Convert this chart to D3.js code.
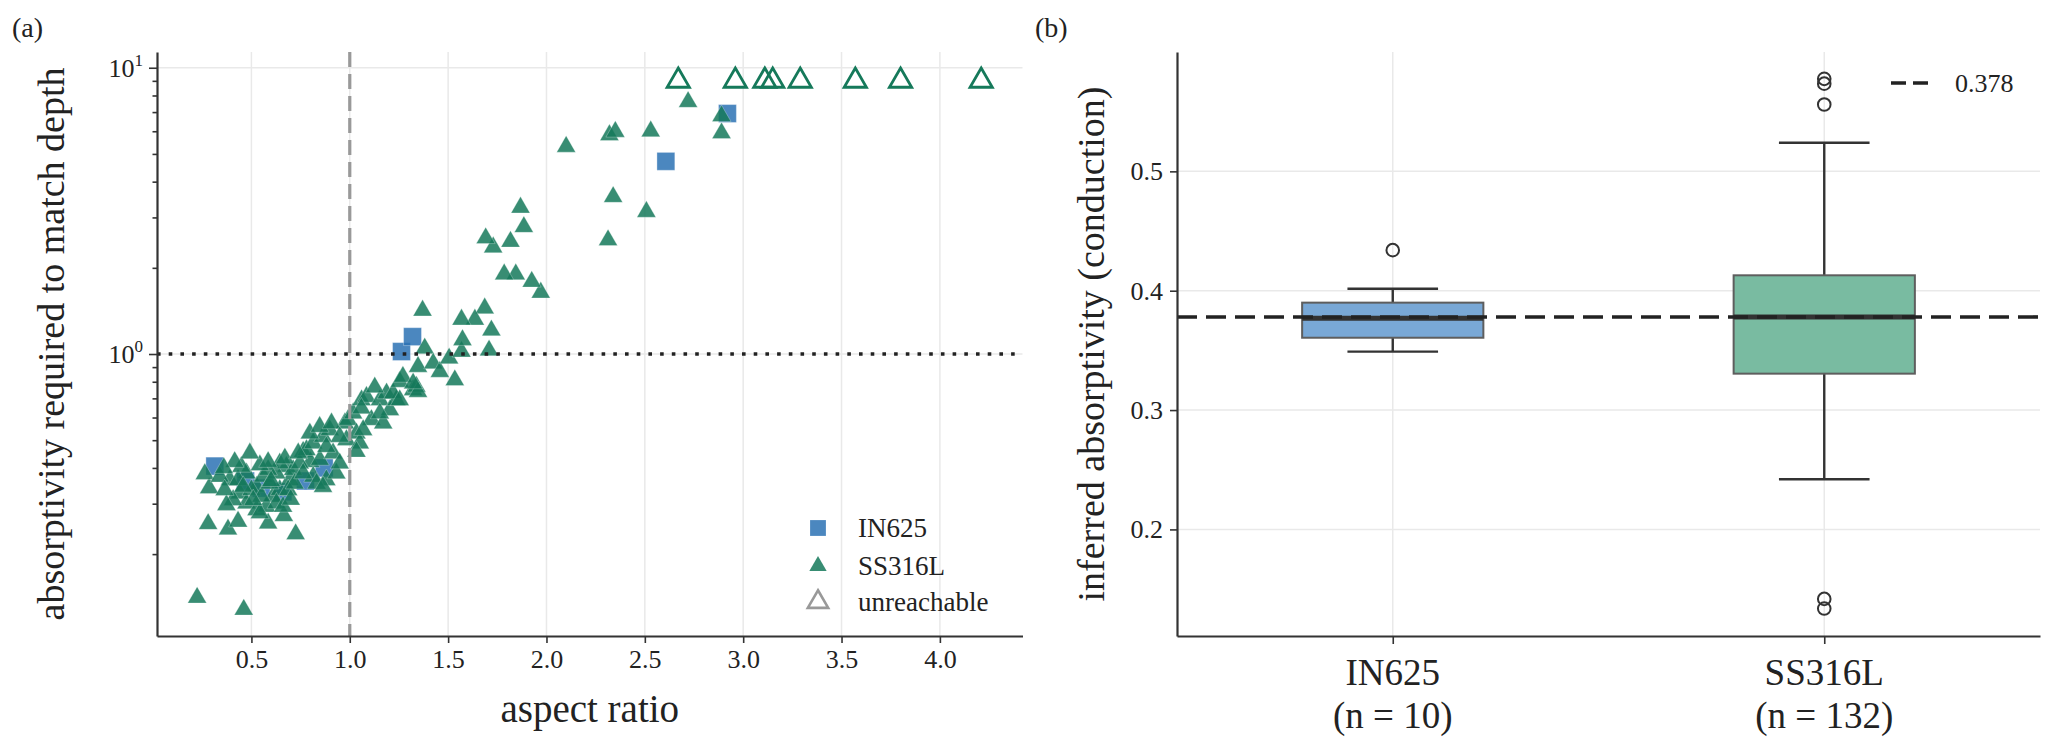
<!DOCTYPE html>
<html><head><meta charset="utf-8">
<script src="https://cdn.jsdelivr.net/npm/d3@7"></script>
<style>
body{margin:0;background:#fff}
text{font-family:"Liberation Serif","Times New Roman",serif;fill:#222}
</style>
</head><body>
<svg id="c" width="2056" height="750"></svg>
<script>
// ---------- DATA ----------
const ss316l = [
 [0.224,0.141],[0.461,0.128],[0.280,0.255],[0.381,0.244],[0.432,0.260],[0.585,0.256],[0.665,0.272],[0.725,0.235],[0.285,0.340],[0.263,0.381],
 [0.390,0.363],[0.441,0.326],[0.475,0.301],[0.526,0.344],[0.560,0.373],[0.610,0.318],[0.644,0.335],[0.678,0.404],[0.695,0.363],[0.526,0.285],
 [0.576,0.293],[0.627,0.301],[0.475,0.383],[0.407,0.309],[0.373,0.297],[0.661,0.293],[0.712,0.394],[0.543,0.278],[0.339,0.373],[0.364,0.335],
 [0.432,0.363],[0.500,0.335],[0.551,0.318],[0.593,0.353],[0.627,0.383],[0.644,0.415],[0.687,0.335],[0.720,0.353],[0.458,0.344],[0.509,0.309],
 [0.449,0.404],[0.585,0.394],[0.543,0.409],[0.492,0.450],[0.415,0.420],[0.585,0.420],[0.670,0.432],[0.763,0.456],[0.600,0.360],[0.700,0.310],
 [0.800,0.420],[0.360,0.400],
 [0.746,0.415],[0.780,0.462],[0.814,0.488],[0.848,0.427],[0.881,0.363],[0.915,0.450],[0.932,0.383],[0.949,0.415],[0.864,0.514],[0.814,0.373],
 [0.797,0.528],[0.898,0.543],[0.881,0.474],[0.763,0.383],[0.831,0.353],[0.864,0.344],[0.975,0.573],[0.983,0.501],[0.738,0.450],[0.847,0.557],
 [0.907,0.573],[0.949,0.514],[0.991,0.589],
 [1.017,0.621],[1.034,0.528],[1.060,0.690],[1.085,0.709],[1.110,0.589],[1.153,0.690],[1.170,0.573],[1.187,0.729],[1.204,0.637],[1.237,0.690],
 [1.051,0.488],[1.034,0.456],[1.322,0.749],[1.127,0.765],[1.220,0.729],[1.339,0.769],[1.254,0.800],[1.153,0.621],[1.059,0.646],[1.068,0.543],
 [1.270,0.833],[1.254,0.690],[1.347,0.738],[1.322,0.790],[1.347,0.903],[1.381,1.047],[1.424,0.928],[1.458,0.867],[1.534,0.811],[1.505,0.966],
 [1.568,1.020],[1.573,1.120],[1.708,1.030],[1.720,1.210],[1.686,1.445],[1.636,1.320],[1.568,1.320],[1.370,1.420],
 [1.971,1.640],[1.925,1.790],[1.844,1.900],[1.785,1.900],[1.817,2.470],[1.729,2.360],[1.691,2.540],[1.885,2.780],[1.868,3.250],
 [2.100,5.300],[2.313,2.500],[2.339,3.540],[2.508,3.140],[2.320,5.820],[2.350,5.980],[2.530,6.000],[2.720,7.600],[2.890,6.780],[2.890,5.910]
];
const in625 = [[0.314,0.406],[0.470,0.360],[0.550,0.340],[0.660,0.330],[0.775,0.360],[0.870,0.400],[1.263,1.020],[1.319,1.150],[2.607,4.710],[2.920,6.920]];
const unreachableX = [2.67,2.96,3.11,3.15,3.29,3.57,3.80,4.21];
const unreachableLevel = 9;
const xTicksA = [0.5,1.0,1.5,2.0,2.5,3.0,3.5,4.0];
const yMajorA = [1,10];
const yMinorA = [0.2,0.3,0.4,0.5,0.6,0.7,0.8,0.9,2,3,4,5,6,7,8,9];
const legendA = ["IN625","SS316L","unreachable"];

const boxCats = ["IN625","SS316L"];
const boxN = [10,132];
const boxQ1 = [0.3606,0.3305];
const boxMed = [0.377,0.378];
const boxQ3 = [0.390,0.4129];
const boxLo = [0.349,0.242];
const boxHi = [0.4016,0.524];
const boxOut = [[0.434],[0.5775,0.5735,0.556,0.1418,0.1337]];
const refValue = 0.378;
const yTicksB = [0.2,0.3,0.4,0.5];

// ---------- STYLE ----------
const green = "#15795a", blue = "#2c72b4";
const boxFill = ["#79a8d6","#79bba1"];
const svg = d3.select("#c");
const yTop = 52, yBot = 636;

// ---------- PANEL A ----------
const xA = d3.scaleLinear([0.02,4.42],[157,1022.5]);
const yA = d3.scaleLog([0.1035,11.35],[yBot,yTop]);
const gA = svg.append("g");

gA.append("g").selectAll("line").data(xTicksA).join("line")
  .attr("x1",d=>xA(d)).attr("x2",d=>xA(d)).attr("y1",yTop).attr("y2",yBot)
  .attr("stroke","#e9e9e9").attr("stroke-width",1.5);
gA.append("g").selectAll("line").data(yMajorA).join("line")
  .attr("x1",xA.range()[0]).attr("x2",xA.range()[1]).attr("y1",d=>yA(d)).attr("y2",d=>yA(d))
  .attr("stroke","#e9e9e9").attr("stroke-width",1.5);

// points
const sq = d3.symbol(d3.symbolSquare,320);
const tri = d3.symbol(d3.symbolTriangle,155);
const triH = d3.symbol(d3.symbolTriangle,215);
gA.append("g").selectAll("path").data(in625).join("path")
  .attr("d",sq).attr("transform",d=>`translate(${xA(d[0])},${yA(d[1])})`)
  .attr("fill",blue).attr("fill-opacity",0.85).attr("stroke","#fff").attr("stroke-opacity",0.4).attr("stroke-width",0.8);
gA.append("g").selectAll("path").data(ss316l).join("path")
  .attr("d",tri).attr("transform",d=>`translate(${xA(d[0])},${yA(d[1])})`)
  .attr("fill",green).attr("fill-opacity",0.85).attr("stroke","#fff").attr("stroke-opacity",0.35).attr("stroke-width",0.8);
gA.append("g").selectAll("path").data(unreachableX).join("path")
  .attr("d",triH).attr("transform",d=>`translate(${xA(d)},${yA(unreachableLevel)})`)
  .attr("fill","none").attr("stroke",green).attr("stroke-width",2.8);

// reference lines
gA.append("line").attr("x1",xA(1)).attr("x2",xA(1)).attr("y1",yTop).attr("y2",yBot)
  .attr("stroke","#999").attr("stroke-width",3.2).attr("stroke-dasharray","15,7");
gA.append("line").attr("x1",xA.range()[0]).attr("x2",xA.range()[1]).attr("y1",yA(1)).attr("y2",yA(1))
  .attr("stroke","#222").attr("stroke-width",3.6).attr("stroke-dasharray","3.6,8.1");

// axes
const axXA = gA.append("g").attr("transform",`translate(0,${yBot})`)
  .call(d3.axisBottom(xA).tickValues(xTicksA).tickFormat(d3.format(".1f")).tickSize(7).tickSizeOuter(0).tickPadding(7));
const axYA = gA.append("g").attr("transform",`translate(${xA.range()[0]},0)`)
  .call(d3.axisLeft(yA).tickValues(yMajorA).tickFormat("").tickSize(8).tickSizeOuter(0));
const axYAm = gA.append("g").attr("transform",`translate(${xA.range()[0]},0)`)
  .call(d3.axisLeft(yA).tickValues(yMinorA).tickFormat("").tickSize(4.5).tickSizeOuter(0));
axYAm.select(".domain").remove();
[axXA,axYA,axYAm].forEach(a=>{
  a.select(".domain").attr("stroke","#333").attr("stroke-width",2.2);
  a.selectAll(".tick line").attr("stroke","#333").attr("stroke-width",1.6);
  a.selectAll(".tick text").attr("font-size",26).attr("fill","#222")
   .attr("font-family",'"Liberation Serif","Times New Roman",serif');
});
// log tick labels 10^n
const lt = gA.append("g").selectAll("text").data(yMajorA).join("text")
  .attr("x",xA.range()[0]-14).attr("y",d=>yA(d)+9).attr("text-anchor","end").attr("font-size",26);
lt.append("tspan").text("10");
lt.append("tspan").attr("font-size",17).attr("dy",-11).text(d=>Math.round(Math.log10(d)));

gA.append("text").attr("x",(xA.range()[0]+xA.range()[1])/2).attr("y",722).attr("text-anchor","middle")
  .attr("font-size",39).text("aspect ratio");
gA.append("text").attr("transform",`translate(64,${(yTop+yBot)/2}) rotate(-90)`).attr("text-anchor","middle")
  .attr("font-size",38).text("absorptivity required to match depth");
gA.append("text").attr("x",12).attr("y",37).attr("font-size",28).text("(a)");

// legend A
const legY = [528,566,602];
const lg = gA.append("g");
lg.append("path").attr("d",d3.symbol(d3.symbolSquare,250)).attr("transform",`translate(818,${legY[0]})`)
  .attr("fill",blue).attr("fill-opacity",0.85);
lg.append("path").attr("d",d3.symbol(d3.symbolTriangle,130)).attr("transform",`translate(818,${legY[1]})`)
  .attr("fill",green).attr("fill-opacity",0.85);
lg.append("path").attr("d",d3.symbol(d3.symbolTriangle,180)).attr("transform",`translate(818,${legY[2]})`)
  .attr("fill","none").attr("stroke","#999").attr("stroke-width",2.6);
lg.selectAll("text").data(legendA).join("text").attr("x",858).attr("y",(d,i)=>legY[i]+9)
  .attr("font-size",27).text(d=>d);

// ---------- PANEL B ----------
const xB = d3.scaleLinear([-0.5,1.5],[1177,2040]);
const yB = d3.scaleLinear([0.1107,0.600],[yBot,yTop]);
const gB = svg.append("g");
gB.append("g").selectAll("line").data(yTicksB).join("line")
  .attr("x1",xB.range()[0]).attr("x2",xB.range()[1]).attr("y1",d=>yB(d)).attr("y2",d=>yB(d))
  .attr("stroke","#e9e9e9").attr("stroke-width",1.5);
gB.append("g").selectAll("line").data(boxCats).join("line")
  .attr("x1",(d,i)=>xB(i)).attr("x2",(d,i)=>xB(i)).attr("y1",yTop).attr("y2",yBot)
  .attr("stroke","#e9e9e9").attr("stroke-width",1.5);

const bw = 0.42, cw = 0.21;
boxCats.forEach((c,i)=>{
  const g = gB.append("g");
  g.append("line").attr("x1",xB(i)).attr("x2",xB(i)).attr("y1",yB(boxQ3[i])).attr("y2",yB(boxHi[i])).attr("stroke","#333").attr("stroke-width",2.4);
  g.append("line").attr("x1",xB(i)).attr("x2",xB(i)).attr("y1",yB(boxQ1[i])).attr("y2",yB(boxLo[i])).attr("stroke","#333").attr("stroke-width",2.4);
  [boxHi[i],boxLo[i]].forEach(v=>g.append("line").attr("x1",xB(i-cw/2)).attr("x2",xB(i+cw/2)).attr("y1",yB(v)).attr("y2",yB(v)).attr("stroke","#333").attr("stroke-width",2.4));
  g.append("rect").attr("x",xB(i-bw/2)).attr("width",xB(i+bw/2)-xB(i-bw/2))
    .attr("y",yB(boxQ3[i])).attr("height",yB(boxQ1[i])-yB(boxQ3[i]))
    .attr("fill",boxFill[i]).attr("stroke","#5e5e5e").attr("stroke-width",2);
  g.append("line").attr("x1",xB(i-bw/2)).attr("x2",xB(i+bw/2)).attr("y1",yB(boxMed[i])).attr("y2",yB(boxMed[i])).attr("stroke","#333").attr("stroke-width",5);
  g.selectAll("circle").data(boxOut[i]).join("circle").attr("cx",xB(i)).attr("cy",d=>yB(d)).attr("r",6.3)
    .attr("fill","none").attr("stroke","#333").attr("stroke-width",2);
});
gB.append("line").attr("x1",xB.range()[0]).attr("x2",xB.range()[1]).attr("y1",yB(refValue)).attr("y2",yB(refValue))
  .attr("stroke","#222").attr("stroke-width",3.6).attr("stroke-dasharray","20,9");

const axXB = gB.append("g").attr("transform",`translate(0,${yBot})`)
  .call(d3.axisBottom(xB).tickValues([0,1]).tickFormat("").tickSize(8).tickSizeOuter(0));
const axYB = gB.append("g").attr("transform",`translate(${xB.range()[0]},0)`)
  .call(d3.axisLeft(yB).tickValues(yTicksB).tickFormat(d3.format(".1f")).tickSize(7).tickSizeOuter(0).tickPadding(7));
[axXB,axYB].forEach(a=>{
  a.select(".domain").attr("stroke","#333").attr("stroke-width",2.2);
  a.selectAll(".tick line").attr("stroke","#333").attr("stroke-width",1.6);
  a.selectAll(".tick text").attr("font-size",26).attr("fill","#222")
   .attr("font-family",'"Liberation Serif","Times New Roman",serif');
});
const cl = gB.append("g").selectAll("text").data(boxCats).join("text")
  .attr("text-anchor","middle").attr("font-size",37);
cl.append("tspan").attr("x",(d,i)=>xB(i)).attr("y",685).text(d=>d);
cl.append("tspan").attr("x",(d,i)=>xB(i)).attr("y",728).text((d,i)=>`(n = ${boxN[i]})`);

gB.append("text").attr("transform",`translate(1104,${(yTop+yBot)/2}) rotate(-90)`).attr("text-anchor","middle")
  .attr("font-size",38).text("inferred absorptivity (conduction)");
gB.append("text").attr("x",1035).attr("y",37).attr("font-size",28).text("(b)");

// legend B
gB.append("line").attr("x1",1891).attr("x2",1929).attr("y1",83).attr("y2",83)
  .attr("stroke","#222").attr("stroke-width",3.6).attr("stroke-dasharray","15,7");
gB.append("text").attr("x",1955).attr("y",92).attr("font-size",26).text(refValue.toFixed(3));
</script>
</body></html>
